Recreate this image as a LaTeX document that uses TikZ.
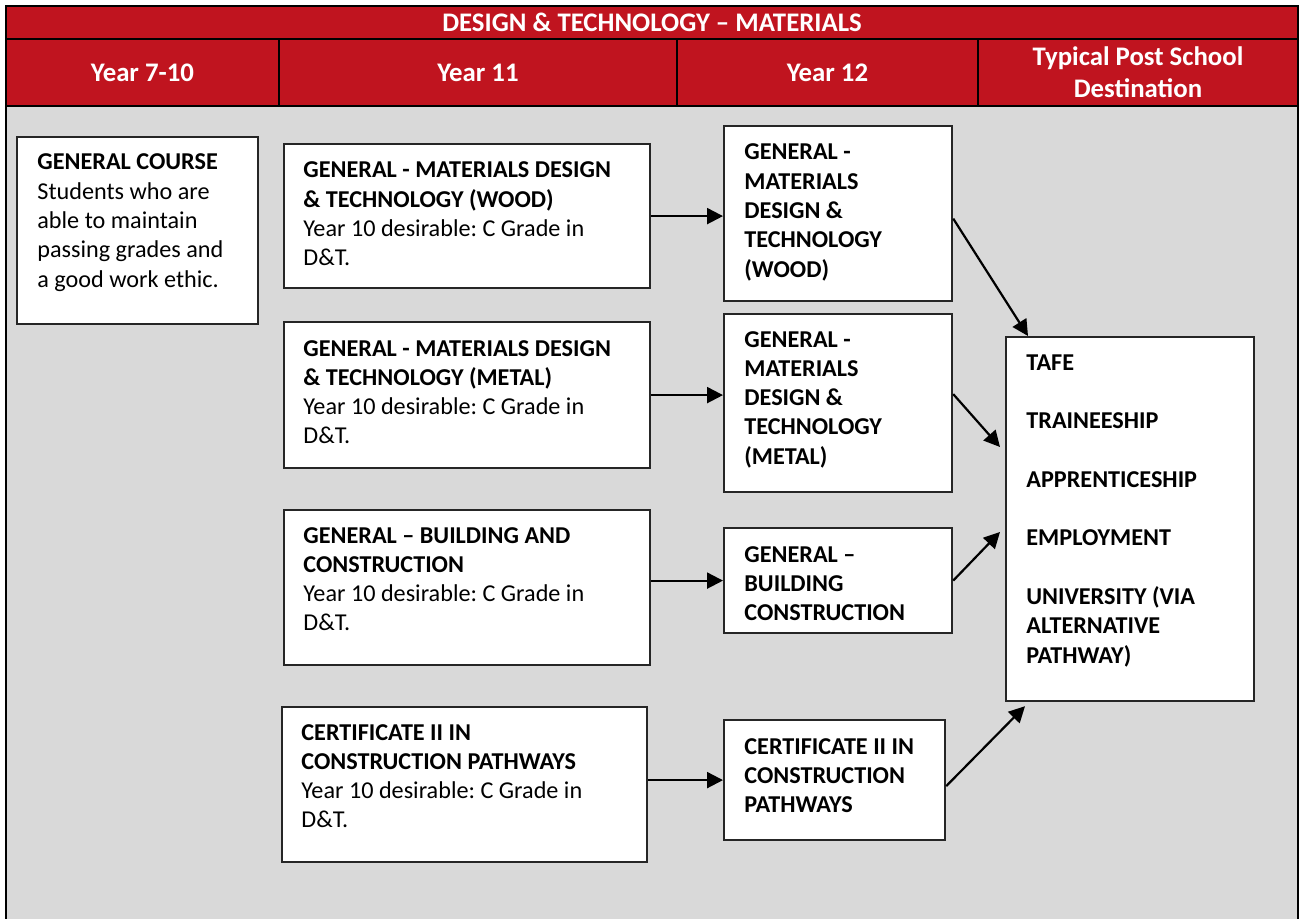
\documentclass[tikz,border=0pt]{standalone}
\usepackage{fontspec}
\setmainfont{Carlito}
\frenchspacing
\usetikzlibrary{arrows.meta,calc}
\definecolor{hdrred}{RGB}{192,20,31}
\definecolor{bodygrey}{RGB}{217,217,217}
\begin{document}
\begin{tikzpicture}[x=0.5pt,y=-0.5pt,
  hdr/.style={draw=black, line width=1pt, fill=hdrred, text=white, anchor=north west,
    font=\fontsize{13.4}{16}\selectfont\bfseries, align=center, inner sep=0pt},
  box/.style={draw=black!85, line width=1.1pt, fill=white, anchor=north west, inner sep=0pt},
  txt/.style={anchor=base west, align=left, inner sep=0pt, font=\fontsize{12.1}{14.65}\selectfont\frenchspacing},
  btxt/.style={txt, font=\fontsize{12.1}{14.65}\selectfont\bfseries},
  arr/.style={line width=1.1pt, -{Triangle[length=8pt,width=8pt]}}]
\useasboundingbox (0,0) rectangle (1299,919);
\clip (0,0) rectangle (1299,919);
% body
\node[draw=black, line width=1pt, fill=bodygrey, anchor=north west, inner sep=0pt,
  minimum width=646pt, minimum height=420pt] (body) at (5,105) {};
% header
\node[hdr, minimum width=646pt, minimum height=16.5pt] (title) at (5,5) {DESIGN \& TECHNOLOGY – MATERIALS};
\node[hdr, minimum width=136.5pt, minimum height=33.5pt] (h1) at (5,38) {Year 7-10};
\node[hdr, minimum width=199pt, minimum height=33.5pt] (h2) at (278,38) {Year 11};
\node[hdr, minimum width=150.5pt, minimum height=33.5pt] (h3) at (676,38) {Year 12};
\node[hdr, minimum width=160pt, minimum height=33.5pt] (h4) at (977,38) {Typical Post School\\Destination};
% boxes
\node[box, minimum width=120.5pt, minimum height=93.5pt] (gc) at (16,136) {};
\node[box, minimum width=183pt, minimum height=72pt] (w11) at (283,143) {};
\node[box, minimum width=183pt, minimum height=73pt] (m11) at (283,321) {};
\node[box, minimum width=183pt, minimum height=77.5pt] (b11) at (283,509) {};
\node[box, minimum width=182.5pt, minimum height=77.5pt] (c11) at (281,706) {};
\node[box, minimum width=114pt, minimum height=87.5pt] (w12) at (723,125) {};
\node[box, minimum width=114pt, minimum height=89pt] (m12) at (723,313) {};
\node[box, minimum width=114pt, minimum height=52.5pt] (b12) at (723,527) {};
\node[box, minimum width=110.5pt, minimum height=60pt] (c12) at (723,719) {};
\node[box, minimum width=124pt, minimum height=182pt] (dest) at (1005,336) {};
% texts (anchored at the baseline of their last line)
\node[txt] (gct) at (37,287.2) {\textbf{GENERAL COURSE}\\Students who are\\able to maintain\\passing grades and\\a good work ethic.};
\node[txt] (w11t) at (303,265.9) {\textbf{GENERAL - MATERIALS DESIGN}\\\textbf{\& TECHNOLOGY (WOOD)}\\Year 10 desirable: C Grade in\\D\&T.};
\node[txt] (m11t) at (303,443.9) {\textbf{GENERAL - MATERIALS DESIGN}\\\textbf{\& TECHNOLOGY (METAL)}\\Year 10 desirable: C Grade in\\D\&T.};
\node[txt] (b11t) at (303,630.9) {\textbf{GENERAL – BUILDING AND}\\\textbf{CONSTRUCTION}\\Year 10 desirable: C Grade in\\D\&T.};
\node[txt] (c11t) at (301,827.9) {\textbf{CERTIFICATE II IN}\\\textbf{CONSTRUCTION PATHWAYS}\\Year 10 desirable: C Grade in\\D\&T.};
\node[btxt] (w12t) at (744,277.2) {GENERAL -\\MATERIALS\\DESIGN \&\\TECHNOLOGY\\(WOOD)};
\node[btxt] (m12t) at (744,464.2) {GENERAL -\\MATERIALS\\DESIGN \&\\TECHNOLOGY\\(METAL)};
\node[btxt] (b12t) at (744,620.6) {GENERAL –\\BUILDING\\CONSTRUCTION};
\node[btxt] (c12t) at (744,812.6) {CERTIFICATE II IN\\CONSTRUCTION\\PATHWAYS};
\node[btxt] (destt) at (1026,663) {TAFE\\[14.65pt]TRAINEESHIP\\[14.65pt]APPRENTICESHIP\\[14.65pt]EMPLOYMENT\\[14.65pt]UNIVERSITY (VIA\\ALTERNATIVE\\PATHWAY)};
% arrow end coordinates
\coordinate (dw) at ($(dest.north west)+(23,0)$);
\coordinate (dm) at ($(dest.north west)+(-5,111)$);
\coordinate (db) at ($(dest.north west)+(-5,196)$);
\coordinate (dc) at ($(dest.south west)+(20,4)$);
% arrows
\draw[arr] (w11.east) -- (w11.east -| w12.west);
\draw[arr] (m11.east) -- (m11.east -| m12.west);
\draw[arr] (b11.east |- b12.west) -- (b12.west);
\draw[arr] (c11.east |- c12.west) -- (c12.west);
\draw[arr] ($(w12.east)+(0,5)$) -- (dw);
\draw[arr] ($(m12.east)+(0,-9)$) -- (dm);
\draw[arr] (b12.east) -- (db);
\draw[arr] ($(c12.east)+(0,6)$) -- (dc);
\end{tikzpicture}
\end{document}
